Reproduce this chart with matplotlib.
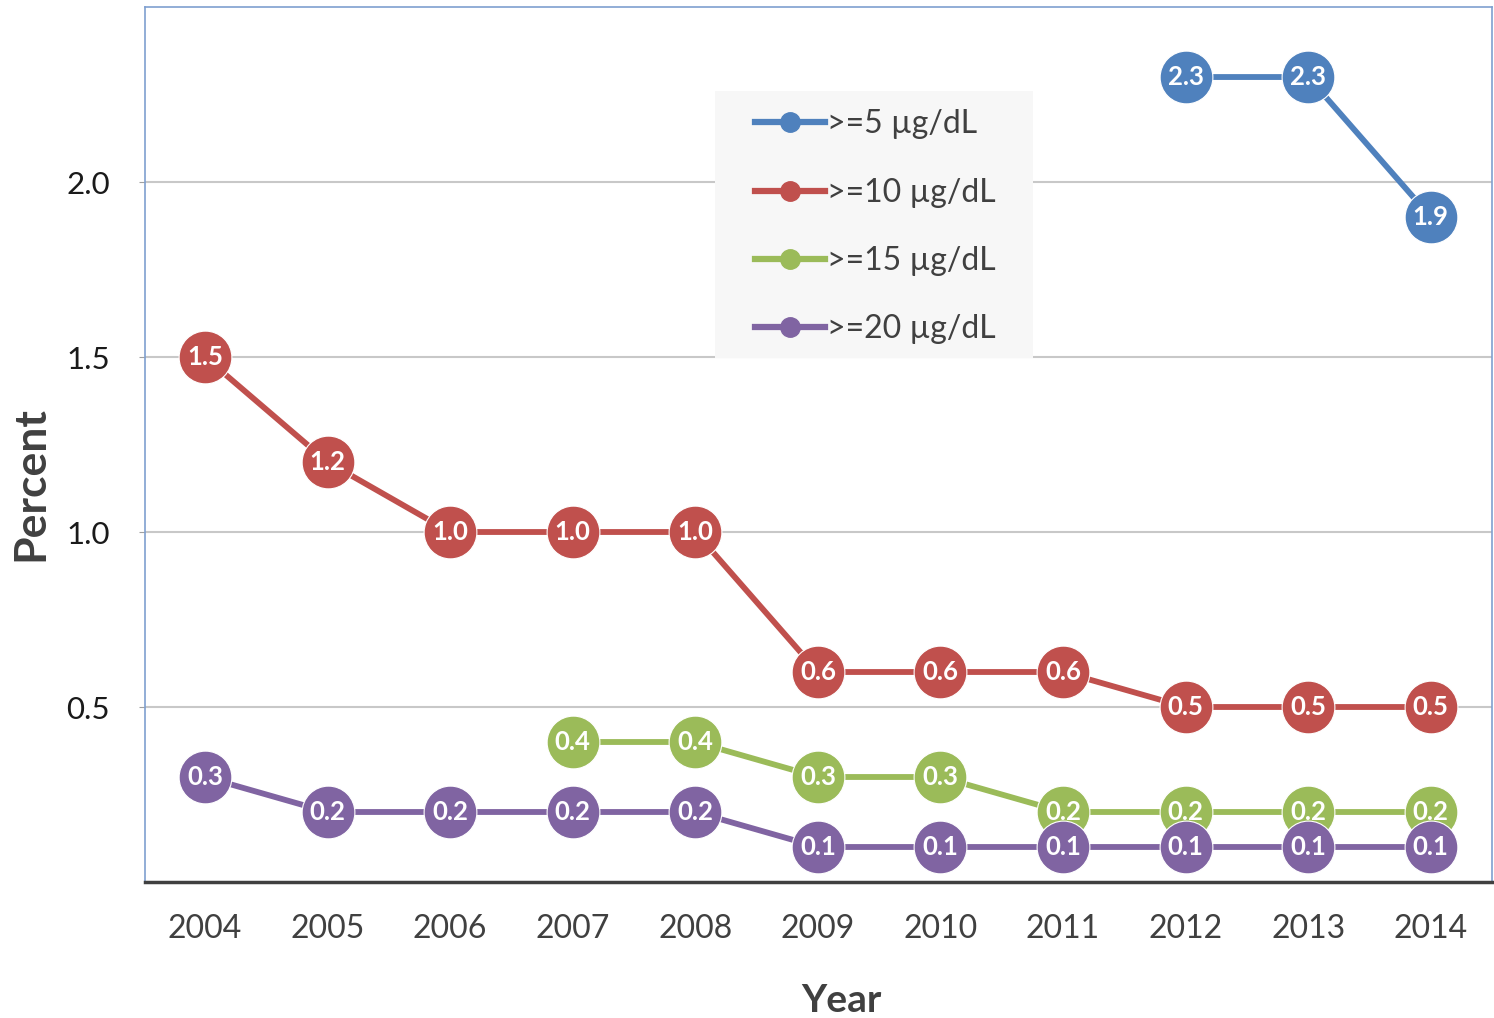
import matplotlib.pyplot as plt
from matplotlib.lines import Line2D
from matplotlib.patches import Rectangle

plt.rcParams['font.family'] = ['Lato', 'DejaVu Sans']

# data
years_5 = [2012, 2013, 2014]
pct_5 = [2.3, 2.3, 1.9]
years_10 = list(range(2004, 2015))
pct_10 = [1.5, 1.2, 1.0, 1.0, 1.0, 0.6, 0.6, 0.6, 0.5, 0.5, 0.5]
years_15 = list(range(2007, 2015))
pct_15 = [0.4, 0.4, 0.3, 0.3, 0.2, 0.2, 0.2, 0.2]
years_20 = list(range(2004, 2015))
pct_20 = [0.3, 0.2, 0.2, 0.2, 0.2, 0.1, 0.1, 0.1, 0.1, 0.1, 0.1]

series = [
    ('>=5 µg/dL', years_5, pct_5, '#4F81BD'),
    ('>=10 µg/dL', years_10, pct_10, '#C0504D'),
    ('>=15 µg/dL', years_15, pct_15, '#9BBB59'),
    ('>=20 µg/dL', years_20, pct_20, '#8064A2'),
]

fig = plt.figure(figsize=(14.94, 10.18), dpi=100)
ax = fig.add_axes([0.097, 0.1336, 0.9017, 0.8595])

handles = []
for i, (name, xs, ys, col) in enumerate(series):
    z = 4 + 2 * i
    ax.plot(xs, ys, color=col, linewidth=4.2, marker='o', markersize=38,
            markeredgecolor='white', markeredgewidth=0.8, zorder=z)
    for x, y in zip(xs, ys):
        ax.text(x, y, f'{y:.1f}', ha='center', va='center', color='white',
                fontsize=18.5, fontweight='bold', zorder=z + 1)
    handles.append(Line2D([], [], color=col, linewidth=4.5, marker='o',
                          markersize=14, label=name))

ax.set_xlim(2003.51, 2014.5)
ax.set_ylim(0, 2.5)
ax.set_xticks(range(2004, 2015))
ax.set_yticks([0.5, 1.0, 1.5, 2.0])
ax.set_yticklabels(['0.5', '1.0', '1.5', '2.0'])
ax.grid(axis='y', color='#C8C8C8', linewidth=1.5, zorder=1)
ax.set_axisbelow(True)

for s in ['left', 'top', 'right']:
    ax.spines[s].set_color('#7FA0D0')
    ax.spines[s].set_linewidth(1.2)
ax.spines['bottom'].set_color('#404040')
ax.spines['bottom'].set_linewidth(2.5)

ax.tick_params(axis='x', length=0, pad=23, labelsize=23, labelcolor='#404040')
ax.tick_params(axis='y', length=4, color='#A0A0A0', pad=21, labelsize=22.5,
               labelcolor='#1a1a1a')

ax.set_ylabel('Percent', fontsize=32, fontweight='bold', color='#404040')
ax.yaxis.set_label_coords(-0.0705, 0.455)
ax.set_xlabel('Year', fontsize=28, fontweight='bold', color='#404040')
ax.xaxis.set_label_coords(0.517, -0.116)

# legend background box
ax.add_patch(Rectangle((0.423, 0.599), 0.236, 0.305, transform=ax.transAxes,
                       facecolor='#F7F7F7', edgecolor='none', zorder=2))
leg = ax.legend(handles=handles, loc='upper left', bbox_to_anchor=(0.4529, 0.883),
                fontsize=23, frameon=False, handlelength=2.2, handletextpad=0.05,
                labelspacing=1.2, borderpad=0, borderaxespad=0)
for t in leg.get_texts():
    t.set_color('#404040')
leg.set_zorder(3)

fig.savefig('out.png', dpi=100)
